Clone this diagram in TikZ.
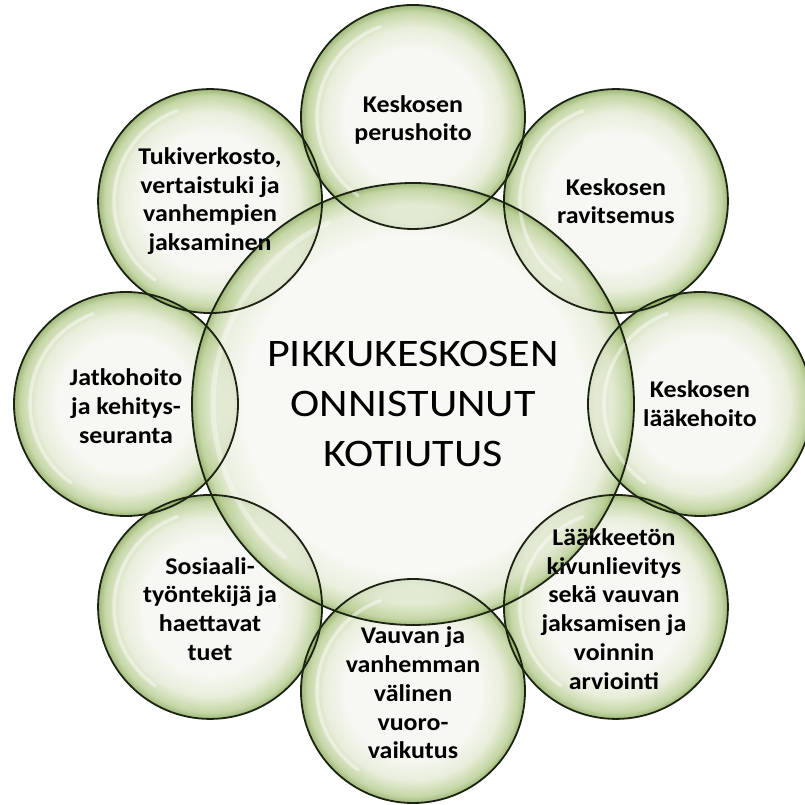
\documentclass[tikz,border=0pt]{standalone}
\usepackage{fontspec}
\setmainfont{Carlito}
\newfontfamily\outerfont[FakeStretch=1.08]{Carlito}
\newfontfamily\mainfont[FakeStretch=1.13]{Carlito}
\definecolor{bubin}{RGB}{246,247,241}
\definecolor{bubmid}{RGB}{226,234,210}
\definecolor{bubrim}{RGB}{184,205,145}
\definecolor{bubedge}{RGB}{135,166,88}
\definecolor{bubline}{RGB}{28,35,18}
\pgfdeclareradialshading{bubble}{\pgfpoint{0bp}{0bp}}{color(0bp)=(bubin); color(15bp)=(bubin); color(20bp)=(bubmid); color(23.5bp)=(bubrim); color(25bp)=(bubedge); color(50bp)=(bubedge)}
\pgfdeclareradialshading{bubbleC}{\pgfpoint{0bp}{0bp}}{color(0bp)=(bubin); color(19bp)=(bubin); color(22.5bp)=(bubmid); color(24.3bp)=(bubrim); color(25bp)=(bubedge); color(50bp)=(bubedge)}
\tikzset{
  bubfill/.style={circle, inner sep=0pt, shade, shading=bubble, fill opacity=0.8},
  bubfillC/.style={circle, inner sep=0pt, shade, shading=bubbleC, fill opacity=0.75},
  outline/.style={draw=bubline, line width=1.8pt},
  hl/.style={draw=white, line width=3.5pt, line cap=round, opacity=0.45},
  lbl/.style={font=\outerfont\bfseries\fontsize{24}{28.7}\selectfont, align=center, text=black, inner sep=0pt},
  mainlbl/.style={font=\mainfont\fontsize{39}{50}\selectfont, align=center, text=black, inner sep=0pt}
}
\begin{document}
\begin{tikzpicture}[x=1pt,y=1pt]
\fill[white] (0,0) rectangle (805,805);
\useasboundingbox (0,0) rectangle (805,805);
\coordinate (O) at (413,401);
% outer bubbles
\foreach \a/\n in {90/t,45/tr,0/r,-45/br,-90/b,-135/bl,180/l,135/tl}
  \node[bubfill, minimum size=224pt] (\n) at ([shift={(\a:287)}]O) {};
% central bubble
\node[bubfillC, minimum size=442pt] (c) at (O) {};
% glossy highlights
\foreach \n in {t,tr,r,br,b,bl,l,tl}
  \draw[hl] (\n.center) ++(110:96) arc[start angle=110, end angle=235, radius=96];
\draw[hl, line width=5pt, opacity=0.35] (c.center) ++(115:200) arc[start angle=115, end angle=230, radius=200];
% labels
\node[mainlbl] (ct) at (c) {PIKKUKESKOSEN\\ONNISTUNUT\\KOTIUTUS};
\node[lbl] (tt) at ([yshift=-3pt]t) {Keskosen\\perushoito};
\node[lbl] (trt) at (tr) {Keskosen\\ravitsemus};
\node[lbl] (rt) at (r) {Keskosen\\lääkehoito};
\node[lbl] (brt) at ([xshift=-2pt,yshift=-2pt]br) {Lääkkeetön\\kivunlievitys\\sekä vauvan\\jaksamisen ja\\voinnin\\arviointi};
\node[lbl] (bt) at ([yshift=-2pt]b) {Vauvan ja\\vanhemman\\välinen\\vuoro-\\vaikutus};
\node[lbl] (blt) at ([yshift=-2pt]bl) {Sosiaali-\\työntekijä ja\\haettavat\\tuet};
\node[lbl] (lt) at ([yshift=-2pt]l) {Jatkohoito\\ja kehitys-\\seuranta};
\node[lbl] (tlt) at (tl) {Tukiverkosto,\\vertaistuki ja\\vanhempien\\jaksaminen};
% outlines on top
\foreach \n in {t,tr,r,br,b,bl,l,tl}
  \draw[outline] (\n.center) circle[radius=112];
\draw[outline] (c.center) circle[radius=221];
\end{tikzpicture}
\end{document}
